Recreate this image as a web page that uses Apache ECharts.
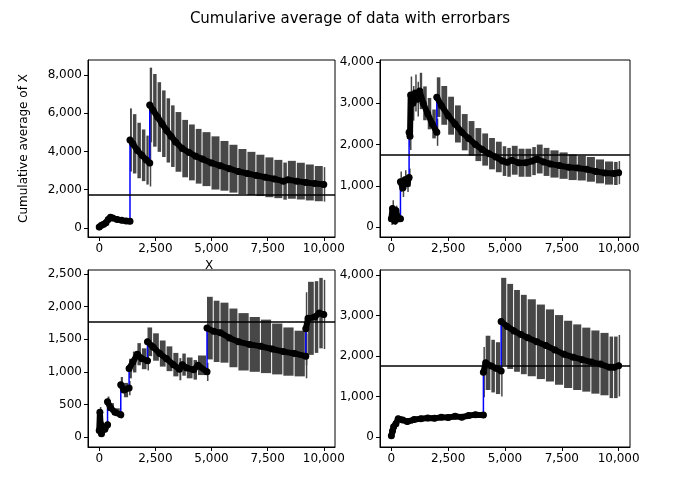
<!DOCTYPE html>
<html>
<head>
<meta charset="utf-8">
<script src="https://cdn.jsdelivr.net/npm/echarts@6/dist/echarts.min.js"></script>
<style>html,body{margin:0;background:#fff}#main{width:700px;height:500px}</style>
</head>
<body>
<div id="main"></div>
<script>
// each panel: x, cumulative mean, error; a repeated x marks a jump
var x1 = [0,100,200,300,400,500,600,800,1000,1200,1370,1370,1500,1700,1900,2100,2250,2250,2400,2600,2800,3000,3200,3400,3700,4000,4300,4600,5000,5400,5800,6200,6600,7000,7400,7800,8200,8400,8800,9200,9600,10000];
var y1 = [50,150,200,280,450,560,520,450,400,370,350,4600,4400,4050,3800,3550,3400,6430,6150,5800,5450,5100,4800,4500,4150,3950,3750,3600,3400,3250,3100,2950,2850,2750,2650,2560,2450,2520,2450,2380,2320,2280];
var e1 = [20,40,50,60,80,80,70,60,55,50,50,1650,1550,1450,1350,1280,1230,1950,1900,1820,1740,1680,1610,1560,1500,1460,1430,1410,1390,1300,1250,1180,1130,1080,1040,1000,970,990,960,940,920,900];

var x2 = [0,50,100,150,200,300,400,400,500,600,700,780,780,820,850,950,1050,1150,1250,1400,1600,1800,2000,2000,2200,2500,2800,3100,3400,3700,4000,4300,4600,4900,5100,5300,5600,5900,6200,6400,6700,7000,7400,7800,8200,8600,9000,9400,9800,10000];
var y2 = [200,450,300,150,400,200,200,1100,950,1150,1050,1200,2300,2200,3200,3000,3250,3100,3300,3000,2750,2500,2300,3150,2950,2700,2500,2300,2150,2000,1880,1780,1700,1600,1570,1620,1560,1560,1600,1650,1580,1530,1490,1450,1430,1400,1350,1310,1300,1320];
var e2 = [150,200,150,100,120,80,70,250,220,230,200,220,350,330,450,420,450,420,440,410,380,350,330,480,470,460,450,440,420,400,390,380,370,360,350,350,340,340,340,350,340,330,320,310,300,300,290,280,280,280];

var x3 = [0,30,60,100,150,250,370,370,500,700,960,960,1100,1330,1330,1500,1700,1900,2150,2150,2400,2700,3000,3300,3570,3700,3900,4200,4400,4800,4800,5100,5400,5800,6200,6700,7200,7700,8200,8700,9200,9200,9300,9600,9800,10000];
var y3 = [100,380,200,50,150,120,190,540,450,380,340,800,720,750,1050,1150,1270,1200,1170,1460,1380,1280,1200,1110,1040,1110,1060,1030,1100,1000,1670,1620,1600,1520,1460,1420,1390,1350,1310,1280,1240,1660,1820,1840,1900,1880];
var e3 = [60,80,60,40,50,40,50,80,70,60,55,120,110,110,150,160,170,160,150,220,210,200,190,180,170,170,160,150,150,140,480,470,460,450,440,420,410,390,370,350,340,560,560,550,540,530];

var x4 = [0,50,100,200,300,500,700,1000,1300,1600,1900,2200,2500,2800,3100,3400,3700,4050,4050,4150,4400,4600,4830,4830,5100,5400,5700,6000,6400,6800,7200,7600,8000,8400,8800,9200,9600,9800,10000];
var y4 = [30,150,250,330,450,420,380,430,450,470,460,490,480,510,490,530,550,540,1600,1830,1750,1700,1630,2850,2730,2620,2530,2450,2350,2260,2150,2040,1970,1910,1850,1800,1720,1720,1760];
var e4 = [20,40,50,50,60,50,50,50,50,50,50,50,50,50,50,50,50,50,620,670,650,640,630,1080,1050,1010,980,950,920,890,860,830,810,790,780,770,760,760,760];

var refLine = 1760;
var xTicks = [0,2500,5000,7500,10000];
var panels = [
    { xs: x1, ys: y1, es: e1, left: 88, top: 60, width: 247, ymin: -470, ymax: 8780, yt: [0,2000,4000,6000,8000] },
    { xs: x2, ys: y2, es: e2, left: 380, top: 60, width: 250, ymin: -240, ymax: 4050, yt: [0,1000,2000,3000,4000] },
    { xs: x3, ys: y3, es: e3, left: 88, top: 270, width: 247, ymin: -153, ymax: 2561, yt: [0,500,1000,1500,2000,2500] },
    { xs: x4, ys: y4, es: e4, left: 380, top: 270, width: 250, ymin: -247, ymax: 4123, yt: [0,1000,2000,3000,4000] }
];

var font = 'DejaVu Sans';
var grid = [], xAxis = [], yAxis = [], series = [];

panels.forEach(function (p, k) {
    grid.push({ left: p.left, top: p.top, width: p.width, height: 177, show: true, borderColor: '#000', borderWidth: 1, backgroundColor: '#fff' });
    xAxis.push({
        type: 'value', gridIndex: k, min: -500, max: 10500,
        axisLine: { onZero: false, lineStyle: { color: '#000' } },
        splitLine: { show: false },
        axisTick: { customValues: xTicks, length: 4, lineStyle: { color: '#000' } },
        axisLabel: { customValues: xTicks, color: '#000', fontFamily: font, fontSize: 12, margin: 6 }
    });
    var ya = {
        type: 'value', gridIndex: k, min: p.ymin, max: p.ymax,
        axisLine: { show: true, onZero: false, lineStyle: { color: '#000' } },
        splitLine: { show: false },
        axisTick: { show: true, customValues: p.yt, length: 4, lineStyle: { color: '#000' } },
        axisLabel: { customValues: p.yt, color: '#000', fontFamily: font, fontSize: 12, margin: 6 }
    };
    if (k === 0) {
        ya.name = 'Cumulative average of X';
        ya.nameLocation = 'middle';
        ya.nameGap = 58;
        ya.nameRotate = 90;
        ya.nameTextStyle = { color: '#000', fontFamily: font, fontSize: 12 };
    }
    yAxis.push(ya);

    var err = [], blue = [], black = [];
    for (var i = 0; i < p.xs.length; i++) {
        var nx = (i + 1 < p.xs.length && p.xs[i + 1] > p.xs[i]) ? p.xs[i + 1] : p.xs[i] + 80;
        err.push([p.xs[i], nx, p.ys[i] - p.es[i], p.ys[i] + p.es[i]]);
        blue.push([p.xs[i], p.ys[i]]);
        if (i > 0 && p.xs[i] === p.xs[i - 1]) black.push([p.xs[i], null]);
        black.push([p.xs[i], p.ys[i]]);
    }

    series.push({
        type: 'custom', xAxisIndex: k, yAxisIndex: k, z: 1, silent: true,
        data: err,
        renderItem: function (params, api) {
            var a = api.coord([api.value(0), api.value(3)]);
            var b = api.coord([api.value(1), api.value(2)]);
            var w = Math.max(b[0] - a[0] - 1, 1.5);
            return { type: 'rect', shape: { x: a[0], y: a[1], width: w, height: b[1] - a[1] }, style: { fill: '#474747' } };
        }
    });
    series.push({
        type: 'line', xAxisIndex: k, yAxisIndex: k, z: 2, data: blue, showSymbol: false,
        lineStyle: { color: '#0000ff', width: 1.5 }
    });
    series.push({
        type: 'line', xAxisIndex: k, yAxisIndex: k, z: 3, data: black, connectNulls: false,
        symbol: 'circle', symbolSize: 7, itemStyle: { color: '#000' },
        lineStyle: { color: '#000', width: 6, cap: 'round', join: 'round' },
        markLine: {
            silent: true, symbol: 'none', label: { show: false },
            lineStyle: { color: '#000', width: 1.5, type: 'solid' },
            data: [{ yAxis: refLine }]
        }
    });
});

var chart = echarts.init(document.getElementById('main'), null, { renderer: 'canvas' });
chart.setOption({
    animation: false,
    backgroundColor: '#fff',
    title: { text: 'Cumularive average of data with errorbars', left: 'center', top: 7, textStyle: { color: '#000', fontFamily: font, fontSize: 15, fontWeight: 'normal' } },
    graphic: [{ type: 'text', left: 205, top: 260, z: -10, style: { text: 'X', fill: '#000', font: '12px DejaVu Sans' } }],
    grid: grid, xAxis: xAxis, yAxis: yAxis, series: series
});
</script>
</body>
</html>
